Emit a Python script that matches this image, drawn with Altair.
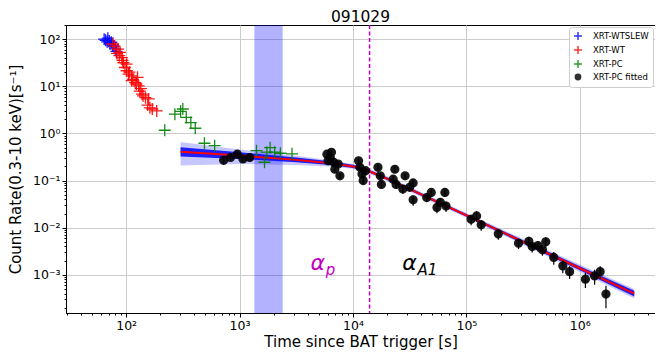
import altair as alt
import pandas as pd

title_text = "091029"
x_title = "Time since BAT trigger [s]"
y_title = "Count Rate(0.3-10 keV)[s⁻¹]"

series_names = ["XRT-WTSLEW", "XRT-WT", "XRT-PC", "XRT-PC fitted"]
series_colors = ["#0000ff", "#ff0000", "#008000", "#000000"]

wtslew_t = [64, 66, 68, 69, 71, 72, 74, 76, 78, 80, 82]
wtslew_r = [100, 95, 88, 105, 92, 82, 86, 75, 70, 62, 55]

wt_t = [76, 79, 83, 85, 87, 88.5, 91.6, 93, 94.6, 97.7, 101, 101, 105, 107, 112, 112, 115,
        120, 123, 126, 129, 132, 135, 138, 141, 148, 155, 158, 162, 170, 186]
wt_r = [79, 71, 50, 61.7, 44.7, 52.5, 40.7, 35.5, 31.6, 25.1, 21.4, 29.5, 18.2, 20, 16.6, 13.2, 14.1,
        12.0, 11.2, 15.5, 10.2, 7.9, 8.9, 6.8, 6.3, 5.75, 4.0, 5.4, 3.5, 3.3, 3.0]

pc_t = [219, 269, 302, 316, 339, 372, 407, 490, 603, 1410, 1660, 1740, 1860, 2040, 2290, 2900]
pc_r = [1.17, 2.57, 2.95, 3.3, 2.19, 1.70, 1.29, 0.62, 0.55, 0.43, 0.245, 0.40, 0.50, 0.40, 0.38, 0.37]

fit_t = [724, 832, 955, 1072, 1230, 5890, 6310, 6760, 7410, 7670, 6920, 6030, 6460,
         11200, 11500, 12000, 12900, 12300, 16600, 17400, 17800, 23400, 22600, 24000,
         28800, 27500, 33900, 33900, 31600, 44700, 49000, 55000, 58900, 64600, 66100,
         110000, 123000, 135000, 191000, 288000, 355000, 380000, 427000, 468000, 501000,
         589000, 708000, 813000, 1120000, 1350000, 1510000, 1700000]
fit_r = [0.269, 0.309, 0.363, 0.288, 0.309, 0.363, 0.309, 0.245, 0.224, 0.126, 0.174, 0.263, 0.398,
         0.263, 0.191, 0.138, 0.162, 0.100, 0.191, 0.126, 0.083, 0.174, 0.107, 0.083,
         0.126, 0.066, 0.089, 0.039, 0.072, 0.0437, 0.056, 0.0269, 0.0347, 0.056, 0.0288,
         0.0151, 0.0178, 0.0115, 0.0074, 0.00468, 0.00513, 0.00398, 0.00417, 0.00339, 0.00501,
         0.00234, 0.00155, 0.00117, 0.00081, 0.00095, 0.00117, 0.00039]
fit_err = [0.15, 0.15, 0.15, 0.15, 0.15, 0.12, 0.12, 0.12, 0.12, 0.15, 0.12, 0.12, 0.12,
           0.12, 0.12, 0.15, 0.12, 0.15, 0.12, 0.15, 0.18, 0.15, 0.15, 0.18,
           0.15, 0.2, 0.18, 0.25, 0.18, 0.2, 0.2, 0.25, 0.2, 0.2, 0.25,
           0.25, 0.25, 0.25, 0.25, 0.25, 0.25, 0.25, 0.25, 0.25, 0.25,
           0.3, 0.3, 0.3, 0.35, 0.35, 0.3, 0.5]

model_t = [302, 1000, 3162, 6310, 10000, 13490, 19950, 31620, 100000, 316200, 1000000, 3020000]
model_r = [0.407, 0.339, 0.275, 0.234, 0.200, 0.162, 0.110, 0.0661, 0.0182, 0.00501, 0.00138, 0.000398]
band_inner_dex = [0.10, 0.07, 0.05, 0.04, 0.035, 0.03, 0.03, 0.03, 0.03, 0.035, 0.045, 0.06]
band_outer_hi_dex = [0.21, 0.13, 0.09, 0.06, 0.05, 0.05, 0.05, 0.05, 0.05, 0.06, 0.08, 0.10]
band_outer_lo_dex = [0.29, 0.18, 0.11, 0.07, 0.05, 0.05, 0.05, 0.05, 0.05, 0.06, 0.08, 0.10]

shade_t = [1350, 2400]
vline_t = [14000]
ann_alpha_t = [4900, 31500]
ann_alpha_r = [1.8e-3, 1.8e-3]
ann_sub = ["p", "A1"]
ann_color = ["#bf00bf", "#000000"]

x_domain = [29.5, 4.6e6]
y_domain = [1.55e-4, 200]
x_major = [1e2, 1e3, 1e4, 1e5, 1e6]
y_major = [1e-3, 1e-2, 1e-1, 1e0, 1e1, 1e2]
exp_labels = ["10⁻⁴", "10⁻³", "10⁻²", "10⁻¹", "10⁰", "10¹", "10²", "10³", "10⁴", "10⁵", "10⁶"]

x_ticks = sorted(x_major + [m * 10 ** k for k in range(1, 7) for m in range(2, 10)
                            if x_domain[0] <= m * 10 ** k <= x_domain[1]])
y_ticks = sorted(y_major + [m * 10 ** k for k in range(-4, 3) for m in range(2, 10)
                            if y_domain[0] <= m * 10 ** k <= y_domain[1]])

FONT = "DejaVu Sans"
is_dec = "abs(log(datum.value)/LN10 - round(log(datum.value)/LN10)) < 0.01"
lab_arr = "[" + ",".join("'" + s + "'" for s in exp_labels) + "]"
label_expr = f"({is_dec}) ? {lab_arr}[round(log(datum.value)/LN10)+4] : ''"


def make_axis(title, values, tpad):
    return alt.Axis(
        title=title, values=values, labelExpr=label_expr, labelOverlap=False,
        labelFont=FONT, labelFontSize=12.5, labelColor="black", labelPadding=2,
        titleFont=FONT, titleFontSize=15, titleFontWeight="normal", titleColor="black",
        titlePadding=tpad,
        tickColor="black", domainColor="black",
        tickSize={"condition": {"test": is_dec, "value": 4}, "value": 2},
        grid=True, gridColor="#cccccc", gridWidth=1,
        gridOpacity={"condition": {"test": is_dec, "value": 1}, "value": 0},
    )


xs = alt.Scale(type="log", domain=x_domain, nice=False)
ys = alt.Scale(type="log", domain=y_domain, nice=False)
X = lambda f: alt.X(f, type="quantitative", scale=xs, axis=make_axis(x_title, x_ticks, 3))
Y = lambda f: alt.Y(f, type="quantitative", scale=ys, axis=make_axis(y_title, y_ticks, 9))

rows = []
for t, r in zip(wtslew_t, wtslew_r):
    rows.append({"t": t, "r": r, "series": series_names[0]})
for t, r in zip(wt_t, wt_r):
    rows.append({"t": t, "r": r, "series": series_names[1]})
for t, r in zip(pc_t, pc_r):
    rows.append({"t": t, "r": r, "series": series_names[2]})
for t, r in zip(fit_t, fit_r):
    rows.append({"t": t, "r": r, "series": series_names[3]})
pts = pd.DataFrame(rows)

err = pd.DataFrame({"t": fit_t, "lo": [r * (1 - e) for r, e in zip(fit_r, fit_err)],
                    "hi": [r * (1 + e) for r, e in zip(fit_r, fit_err)]})

model = pd.DataFrame({
    "t": model_t, "r": model_r,
    "ilo": [r / 10 ** w for r, w in zip(model_r, band_inner_dex)],
    "ihi": [r * 10 ** w for r, w in zip(model_r, band_inner_dex)],
    "olo": [r / 10 ** w for r, w in zip(model_r, band_outer_lo_dex)],
    "ohi": [r * 10 ** w for r, w in zip(model_r, band_outer_hi_dex)],
})

plus = "M-1,0L1,0M0,-1L0,1"
circ = "M0.66,0A0.66,0.66 0 1,1 -0.66,0A0.66,0.66 0 1,1 0.66,0Z"

shade = alt.Chart(pd.DataFrame({"a": [shade_t[0]], "b": [shade_t[1]]})).mark_rect(
    color="#0000ff", opacity=0.3).encode(x=X("a"), x2="b")

vline = alt.Chart(pd.DataFrame({"t": vline_t})).mark_rule(
    color="#c000c0", strokeDash=[4, 2.5], strokeWidth=1.5).encode(x=X("t"))

outer = alt.Chart(model).mark_area(color="#0000ff", opacity=0.22).encode(x=X("t"), y=Y("olo"), y2="ohi")
inner = alt.Chart(model).mark_area(color="#0000ff", opacity=0.85).encode(x=X("t"), y=Y("ilo"), y2="ihi")
red = alt.Chart(model).mark_line(color="#ff0000", strokeWidth=2).encode(x=X("t"), y=Y("r"))

ebars = alt.Chart(err).mark_rule(color="black", strokeWidth=1.2).encode(x=X("t"), y=Y("lo"), y2="hi")

points = alt.Chart(pts).mark_point(filled=False, strokeWidth=1.3, size=144, opacity=0.9).encode(
    x=X("t"), y=Y("r"),
    color=alt.Color("series:N", scale=alt.Scale(domain=series_names, range=series_colors),
                    legend=alt.Legend(title=None, orient="top-right", offset=2, fillColor="white",
                                      strokeColor="#cccccc", cornerRadius=3, padding=4,
                                      labelFont=FONT, labelFontSize=8.5, labelColor="black",
                                      symbolSize=64, symbolStrokeWidth=1.5, symbolOpacity=0.8,
                                      rowPadding=0, labelOffset=10)),
    shape=alt.Shape("series:N", scale=alt.Scale(domain=series_names, range=[plus, plus, plus, circ])),
    fill=alt.Fill("series:N", scale=alt.Scale(domain=series_names,
                                              range=["transparent", "transparent", "transparent", "#000000"])),
)

ann = pd.DataFrame({"t": ann_alpha_t, "r": ann_alpha_r, "sub": ann_sub, "c": ann_color})
alpha_txt = alt.Chart(ann).mark_text(text="α", font=FONT, fontSize=22, fontStyle="italic",
                                     align="center", baseline="middle").encode(
    x=X("t"), y=Y("r"), color=alt.Color("c:N", scale=None))
sub_txt = alt.Chart(ann).mark_text(font=FONT, fontSize=15, fontStyle="italic", align="left",
                                   baseline="middle", dx=8, dy=7).encode(
    x=X("t"), y=Y("r"), text="sub:N", color=alt.Color("c:N", scale=None))

chart = alt.layer(shade, vline, outer, inner, red, ebars, points, alpha_txt, sub_txt).properties(
    width=589, height=288, padding={"left": 0, "top": 1, "right": 0, "bottom": 0},
    title=alt.TitleParams(title_text, font=FONT, fontSize=15.5, fontWeight="normal", color="black", offset=-6),
).configure_view(stroke="black", strokeWidth=1)

chart.save("out.html", embed_options={"renderer": "svg", "actions": False})
